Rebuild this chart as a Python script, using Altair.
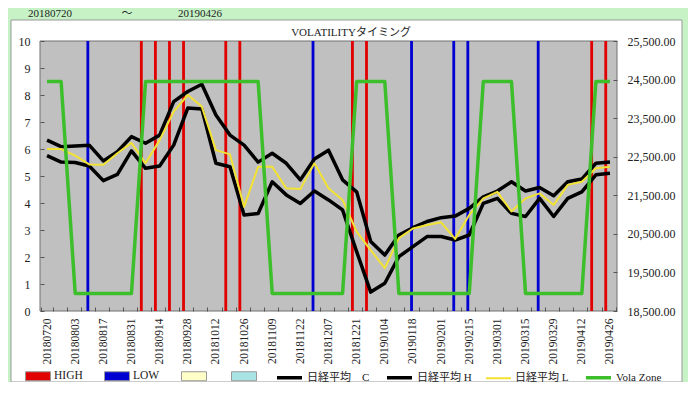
import json
import altair as alt
import pandas as pd

# ---------------- data ----------------
weeks = ["20180720", "20180727", "20180803", "20180810", "20180817", "20180824", "20180831",
         "20180907", "20180914", "20180921", "20180928", "20181005", "20181012", "20181019",
         "20181026", "20181102", "20181109", "20181116", "20181122", "20181130", "20181207",
         "20181214", "20181221", "20181228", "20190104", "20190111", "20190118", "20190125",
         "20190201", "20190208", "20190215", "20190222", "20190301", "20190308", "20190315",
         "20190322", "20190329", "20190405", "20190412", "20190419", "20190426"]
label_weeks = ["20180720", "20180803", "20180817", "20180831", "20180914", "20180928", "20181012",
               "20181026", "20181109", "20181122", "20181207", "20181221", "20190104", "20190118",
               "20190201", "20190215", "20190301", "20190315", "20190329", "20190412", "20190426"]

vola_zone = [8.5, 8.5, 0.65, 0.65, 0.65, 0.65, 0.65, 8.5, 8.5, 8.5, 8.5, 8.5, 8.5, 8.5,
             8.5, 8.5, 0.65, 0.65, 0.65, 0.65, 0.65, 0.65, 8.5, 8.5, 8.5, 0.65, 0.65, 0.65,
             0.65, 0.65, 0.65, 8.5, 8.5, 8.5, 0.65, 0.65, 0.65, 0.65, 0.65, 8.5, 8.5]

nikkei_h = [22930, 22760, 22780, 22800, 22390, 22630, 23020, 22850, 23060, 23930, 24190, 24380,
            23580, 23060, 22800, 22360, 22590, 22330, 21900, 22440, 22670, 21900, 21590, 20300,
            19950, 20470, 20660, 20820, 20920, 20960, 21160, 21460, 21610, 21850, 21610, 21700,
            21490, 21850, 21920, 22330, 22360]
nikkei_c = [22530, 22360, 22350, 22260, 21880, 22040, 22650, 22200, 22260, 22800, 23760, 23740,
            22330, 22240, 20990, 21030, 21850, 21510, 21290, 21610, 21380, 21120, 20040, 18990,
            19220, 19910, 20170, 20430, 20430, 20340, 20470, 21290, 21420, 21030, 20950, 21420,
            20950, 21420, 21590, 22030, 22070]
nikkei_l = [22700, 22700, 22530, 22300, 22290, 22590, 22860, 22330, 22930, 23670, 24100, 23800,
            22670, 22560, 21200, 22240, 22240, 21680, 21660, 22330, 21680, 21380, 20560, 20080,
            19610, 20390, 20640, 20730, 20800, 20370, 20990, 21420, 21590, 21080, 21420, 21550,
            21250, 21770, 21850, 22200, 22240]

high_weeks = ["20180907", "20180914", "20180921", "20180928", "20181019", "20181026",
              "20181221", "20181228", "20190419", "20190426"]
low_weeks = ["20180810", "20181130", "20190118", "20190208", "20190215", "20190322"]
signal_height = 10

bar_series = ["HIGH", "LOW", "blank_y", "blank_c"]
bar_colors = ["#e00000", "#0000d0", "#ffffc8", "#a8e4e4"]
line_series = ["日経平均　C", "日経平均 H", "日経平均 L", "Vola Zone"]
line_colors = ["#000000", "#000000", "#f2e232", "#3cbf2a"]
line_widths = [3.5, 3.5, 2, 3.5]

period = ["20180720", "～", "20190426"]
chart_title = ["VOLATILITYタイミング"]

# ---------------- tables ----------------
bar_df = pd.DataFrame(
    [{"week": w, "series": "HIGH", "value": signal_height} for w in high_weeks]
    + [{"week": w, "series": "LOW", "value": signal_height} for w in low_weeks]
)
vola_df = pd.DataFrame({"week": weeks, "series": "Vola Zone", "vola": vola_zone})
c_df = pd.DataFrame({"week": weeks, "series": line_series[0], "price": nikkei_c})
h_df = pd.DataFrame({"week": weeks, "series": line_series[1], "price": nikkei_h})
l_df = pd.DataFrame({"week": weeks, "series": line_series[2], "price": nikkei_l})
dummy = pd.DataFrame({"a": [0]})

# ---------------- styling ----------------
FONT = "Liberation Serif, Noto Sans CJK JP"
W, H = 577, 270

xscale = alt.Scale(type="band", domain=weeks, paddingInner=0.2, paddingOuter=0.1)
label_expr = ("indexof(" + json.dumps(label_weeks).replace('"', "'")
              + ", datum.value) >= 0 ? datum.value : ''")
xaxis = alt.Axis(title=None, labelExpr=label_expr, labelAngle=270, labelFont=FONT,
                 labelFontSize=11.5, labelColor="#222", tickBand="extent", tickSize=4,
                 offset=-4, domain=False, tickColor="#555", labelPadding=7, zindex=1,
                 grid=False, labelOverlap=False)

yl_scale = alt.Scale(domain=[0, 10], nice=False, zero=True)
yl_axis = alt.Axis(title=None, values=list(range(0, 11)), orient="left", offset=-4,
                   tickSize=4, domain=False, labelPadding=10, labelFont=FONT,
                   labelFontSize=12, labelColor="#222", tickColor="#555", grid=False, zindex=1)
yr_scale = alt.Scale(domain=[18500, 25500], nice=False, zero=False)
yr_axis = alt.Axis(title=None, values=list(range(18500, 25501, 1000)), format=",.2f",
                   orient="right", offset=-4, tickSize=4, domain=False, labelPadding=10,
                   labelFont=FONT, labelFontSize=12, labelColor="#222", tickColor="#555",
                   grid=False, zindex=1)

LEG_Y = 322
stroke_scale = alt.Scale(domain=line_series, range=line_colors)
width_scale = alt.Scale(type="ordinal", domain=line_series, range=line_widths)
stroke_legend = alt.Legend(title=None, orient="none", legendX=235, legendY=LEG_Y,
                           direction="horizontal", symbolType="stroke", symbolSize=625,
                           columnPadding=10, labelOffset=3, labelFont=FONT, labelFontSize=11,
                           labelColor="#222", zindex=1, padding=0)
fill_legend = alt.Legend(title=None, orient="none", legendX=-15, legendY=LEG_Y,
                         direction="horizontal", symbolType="M-1,-0.36H1V0.36H-1Z",
                         symbolSize=625, symbolStrokeColor="#999", symbolStrokeWidth=1,
                         columnPadding=19, labelOffset=3, labelFont=FONT, labelFontSize=11.5,
                         labelColor="#222", zindex=1, padding=0,
                         labelExpr="indexof(datum.label, 'blank') == 0 ? '' : datum.label")


def X():
    return alt.X("week:O", scale=xscale, axis=xaxis, bandPosition=0.5)


# ---------------- layers ----------------
panel = alt.Chart(dummy).mark_rect(fill="white", stroke="#999", strokeWidth=1).encode(
    x=alt.value(-29), x2=alt.value(642), y=alt.value(-21), y2=alt.value(341))
plot_bg = alt.Chart(dummy).mark_rect(fill="#c0c0c0", stroke="#707070", strokeWidth=1).encode(
    x=alt.value(0), x2=alt.value(W), y=alt.value(0), y2=alt.value(H))

header_x = [10, 87, 160]
headers = [
    alt.Chart(pd.DataFrame({"t": [t]})).mark_text(font=FONT, fontSize=11, color="#222").encode(
        text="t:N", x=alt.value(hx), y=alt.value(-27))
    for t, hx in zip(period, header_x)
]
title_text = alt.Chart(pd.DataFrame({"t": chart_title})).mark_text(
    font=FONT, fontSize=11, color="#222").encode(
    text="t:N", x=alt.value(311), y=alt.value(-8))

bars = alt.Chart(bar_df).mark_bar().encode(
    x=alt.X("week:O", scale=xscale, axis=xaxis),
    xOffset=alt.XOffset("series:N", scale=alt.Scale(domain=bar_series, paddingInner=0,
                                                    paddingOuter=0)),
    y=alt.Y("value:Q", scale=yl_scale, axis=yl_axis),
    fill=alt.Fill("series:N", scale=alt.Scale(domain=bar_series, range=bar_colors),
                  legend=fill_legend),
)


def nikkei(df):
    return alt.Chart(df).mark_line(strokeJoin="round").encode(
        x=X(),
        y=alt.Y("price:Q", scale=yr_scale, axis=yr_axis),
        stroke=alt.Stroke("series:N", scale=stroke_scale, legend=stroke_legend),
        strokeWidth=alt.StrokeWidth("series:N", scale=width_scale, legend=stroke_legend),
    )


green = alt.Chart(vola_df).mark_line(strokeJoin="round").encode(
    x=X(),
    y=alt.Y("vola:Q", scale=yl_scale, axis=None),
    stroke=alt.Stroke("series:N", scale=stroke_scale, legend=stroke_legend),
    strokeWidth=alt.StrokeWidth("series:N", scale=width_scale, legend=stroke_legend),
)

left = alt.layer(panel, plot_bg, *headers, title_text, bars)
right = alt.layer(nikkei(c_df), nikkei(h_df), nikkei(l_df))

chart = alt.layer(left, right, green).resolve_scale(y="independent").properties(
    width=W, height=H,
    autosize=alt.AutoSizeParams(type="none"),
    padding={"left": 32, "top": 33, "right": 71, "bottom": 71},
    background="#c6f2c6",
).configure_view(strokeWidth=0)

chart.save("out.html", embed_options={"renderer": "svg", "actions": False})
